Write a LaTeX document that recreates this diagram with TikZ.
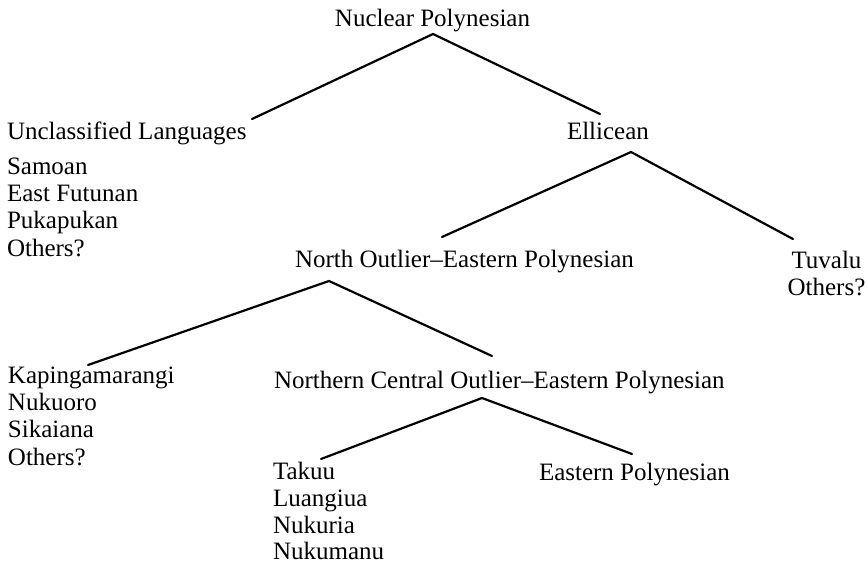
\documentclass[tikz,border=0pt]{standalone}
\usepackage{fontspec}
\setmainfont{Liberation Serif}
\begin{document}
\begin{tikzpicture}[x=1pt,y=-1pt,
  lbl/.style={inner sep=0pt,outer sep=0pt,anchor=base west,font=\fontsize{25}{27}\selectfont},
  lblc/.style={lbl,anchor=base},
  branch/.style={draw=black,line width=2.2pt,line join=miter,line cap=round}]
\useasboundingbox (0,0) rectangle (867,564);
% labels
\node[lblc] (nuc) at (432.5,27) {Nuclear Polynesian};
\node[lbl] (uncl) at (7,140) {Unclassified Languages};
\node[lbl] (sam) at (7,175) {Samoan};
\node[lbl] (efu) at (7,202) {East Futunan};
\node[lbl] (puk) at (7,229) {Pukapukan};
\node[lbl] (oth1) at (7,256) {Others?};
\node[lbl] (ell) at (567,140) {Ellicean};
\node[lbl] (noep) at (295,267) {North Outlier--Eastern Polynesian};
\node[lblc] (tuv) at (826.5,268) {Tuvalu};
\node[lblc] (oth2) at (826.5,295) {Others?};
\node[lbl] (kap) at (8,383) {Kapingamarangi};
\node[lbl] (nuk) at (8,410) {Nukuoro};
\node[lbl] (sik) at (8,437.5) {Sikaiana};
\node[lbl] (oth3) at (8,465) {Others?};
\node[lbl] (ncoep) at (274,388) {Northern Central Outlier--Eastern Polynesian};
\node[lbl] (tak) at (273,479) {Takuu};
\node[lbl] (lua) at (273,506) {Luangiua};
\node[lbl] (nkr) at (273,533) {Nukuria};
\node[lbl] (nkm) at (273,559.5) {Nukumanu};
\node[lbl] (ep) at (539,480) {Eastern Polynesian};
% branch points
\coordinate (nucA) at (433,34);
\coordinate (nucL) at (252,119);
\coordinate (nucR) at (600,114);
\coordinate (ellA) at (631,152);
\coordinate (ellL) at (442,237);
\coordinate (ellR) at (793,239);
\coordinate (noepA) at (329,281);
\coordinate (noepL) at (88,365);
\coordinate (noepR) at (492,356);
\coordinate (ncA) at (482,398);
\coordinate (ncL) at (321,459);
\coordinate (ncR) at (632,454);
% branches
\draw[branch] (nucL) -- (nucA) -- (nucR);
\draw[branch] (ellL) -- (ellA) -- (ellR);
\draw[branch] (noepL) -- (noepA) -- (noepR);
\draw[branch] (ncL) -- (ncA) -- (ncR);
\end{tikzpicture}
\end{document}
